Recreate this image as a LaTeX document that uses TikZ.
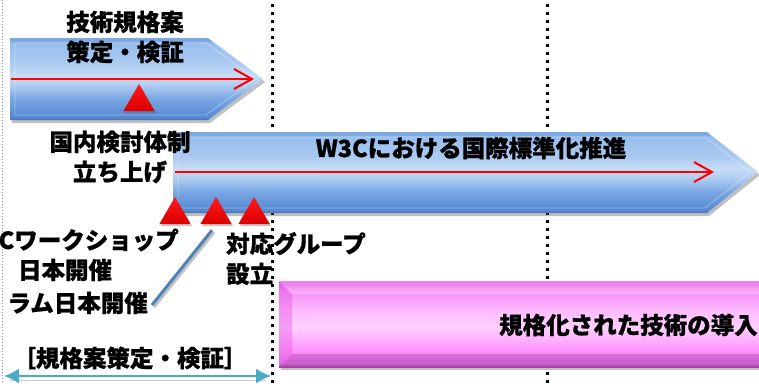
\documentclass[tikz,border=0pt]{standalone}
\usepackage{fontspec}
\newfontfamily\jp{Noto Sans CJK JP}[BoldFeatures={FakeBold=0.8}]
\usetikzlibrary{arrows.meta,shadows,shapes.geometric}
\definecolor{bbot}{HTML}{4A6E9E}
\definecolor{bdark}{HTML}{5588D2}
\definecolor{bmid}{HTML}{79A6E4}
\definecolor{blight}{HTML}{B2CFF2}
\definecolor{bhi}{HTML}{C6DCF6}
\definecolor{blight2}{HTML}{A9C9F0}
\definecolor{btop}{HTML}{98BEEE}
\definecolor{btopedge}{HTML}{7AA8E0}
\definecolor{mbot}{HTML}{A040A0}
\definecolor{mdark}{HTML}{E070E8}
\definecolor{mmid}{HTML}{FF94FF}
\definecolor{mlight}{HTML}{FFD0FF}
\definecolor{mlight2}{HTML}{FFBCFF}
\definecolor{mtop}{HTML}{F488F4}
\definecolor{mtopedge}{HTML}{E85CE8}
\definecolor{cyanarr}{HTML}{4BACC6}
\definecolor{linkblue}{HTML}{4F81BD}
\pgfdeclareverticalshading{bluebar}{100bp}{color(0bp)=(bbot); color(25bp)=(bbot); color(26.5bp)=(bdark); color(38bp)=(bmid); color(47bp)=(blight); color(52bp)=(bhi); color(60bp)=(blight2); color(72bp)=(btop); color(73.5bp)=(btopedge); color(75bp)=(btopedge); color(100bp)=(btopedge)}
\pgfdeclareverticalshading{magbar}{100bp}{color(0bp)=(mbot); color(25bp)=(mbot); color(27bp)=(mdark); color(35bp)=(mmid); color(48bp)=(mlight); color(58bp)=(mlight2); color(70bp)=(mtop); color(73bp)=(mtopedge); color(75bp)=(mtopedge); color(100bp)=(mtopedge)}
\pgfdeclareverticalshading{redtri}{100bp}{color(0bp)=(red!85!black); color(25bp)=(red!85!black); color(75bp)=(red!90!white); color(100bp)=(red!90!white)}
\begin{document}
\begin{tikzpicture}[x=1pt,y=-1pt,
  lbl/.style={font=\jp\bfseries\fontsize{23.5}{30}\selectfont, inner sep=0pt, text=black},
  bluebarstyle/.style={shading=bluebar, drop shadow={shadow xshift=2pt,shadow yshift=-3pt,opacity=0.35,fill=black!70}},
  magbarstyle/.style={shading=magbar, drop shadow={shadow xshift=2pt,shadow yshift=-3pt,opacity=0.35,fill=black!70}},
  bevel/.style={draw=white, opacity=0.35, line width=0.8pt},
  marker/.style={regular polygon, regular polygon sides=3, minimum size=36pt, inner sep=0pt, shading=redtri, drop shadow={shadow xshift=1.5pt,shadow yshift=-2pt,opacity=0.3,fill=black!70}},
  redarrow/.style={draw=red, line width=2pt, -{Straight Barb[length=18pt,width=20pt]}},
  spanarrow/.style={draw=cyanarr, line width=2pt, {Latex[length=15pt,width=15pt]}-{Latex[length=15pt,width=15pt]}},
  blackdots/.style={draw=black, line width=3pt, dash pattern=on 3pt off 5pt, dash phase=4pt},
  graydots/.style={draw=black!45, line width=1pt, dash pattern=on 1pt off 2pt},
  linkline/.style={draw=linkblue, line width=3pt}
]
\useasboundingbox (0,0) rectangle (759,383);
\clip (0,0) rectangle (759,383);
\fill[white] (0,0) rectangle (759,383);

% guide lines
\draw[graydots] (2,0) -- (2,383);
\draw[blackdots] (272,0) -- (272,383);
\draw[blackdots] (547,0) -- (547,383);

% bar 1: technical spec drafting
\shade[bluebarstyle] (10,38) -- (208,38) -- (263,79) -- (208,120) -- (10,120) -- cycle;
\draw[bevel] (15,43) -- (206,43) -- (255,79) -- (206,115) -- (15,115) -- cycle;
\coordinate (r1s) at (11,79);
\coordinate (r1e) at (254,79);
\draw[redarrow] (r1s) -- (r1e);

% bar 2: W3C international standardisation
\shade[bluebarstyle] (173,132) -- (707,132) -- (758,172) -- (707,213) -- (173,213) -- cycle;
\draw[bevel] (178,137) -- (705,137) -- (750,172) -- (705,208) -- (178,208) -- cycle;
\coordinate (r2s) at (175,172);
\coordinate (r2e) at (714,172);
\draw[redarrow] (r2s) -- (r2e);

% bar 3: introduction of standardised technology
\shade[magbarstyle] (279,281) rectangle (775,367);
\fill[mtopedge, opacity=0.45] (279,281) -- (292,294) -- (292,354) -- (279,367) -- cycle;
\fill[white, opacity=0.25] (279,281) -- (775,281) -- (775,294) -- (292,294) -- cycle;
\fill[mbot, opacity=0.35] (279,367) -- (292,354) -- (775,354) -- (775,367) -- cycle;

% markers
\node[marker] (t0) at (139,102) {};
\node[marker] (t1) at (175,215) {};
\node[marker] (t2) at (216,215) {};
\node[marker] (t3) at (254,215) {};

% labels
\node[lbl, align=center] (spec) at (125,37) {技術規格案\\策定・検証};
\node[lbl, align=center] (kokunai) at (120,157) {国内検討体制\\立ち上げ};
\node[lbl] (w3c) at (471,148) {W3Cにおける国際標準化推進};
\node[lbl, anchor=east] (ws) at (179,240) {Cワークショップ};
\node[lbl] (wsb) at (65,270) {日本開催};
\node[lbl, anchor=east] (forum) at (148,303) {ラム日本開催};
\node[lbl, align=left, anchor=west] (taio) at (226,258.5) {対応グループ\\設立};
\node[lbl, anchor=west] (intro) at (499,325) {規格化された技術の導入};
\node[lbl] (span) at (130,358) {［規格案策定・検証］};

% connector from forum label to marker
\draw[line width=3pt, draw=black!40, opacity=0.6] ([shift={(-2,8)}]t2.south) -- ([shift={(6,4)}]forum.east);
\draw[linkline] ([shift={(-4,6)}]t2.south) -- ([shift={(4,2)}]forum.east);

% span arrow
\coordinate (sa) at (4,376);
\coordinate (sb) at (271,376);
\draw[draw=black!20, line width=1pt] (10,380) -- (265,380);
\draw[spanarrow] (sa) -- (sb);
\end{tikzpicture}
\end{document}
